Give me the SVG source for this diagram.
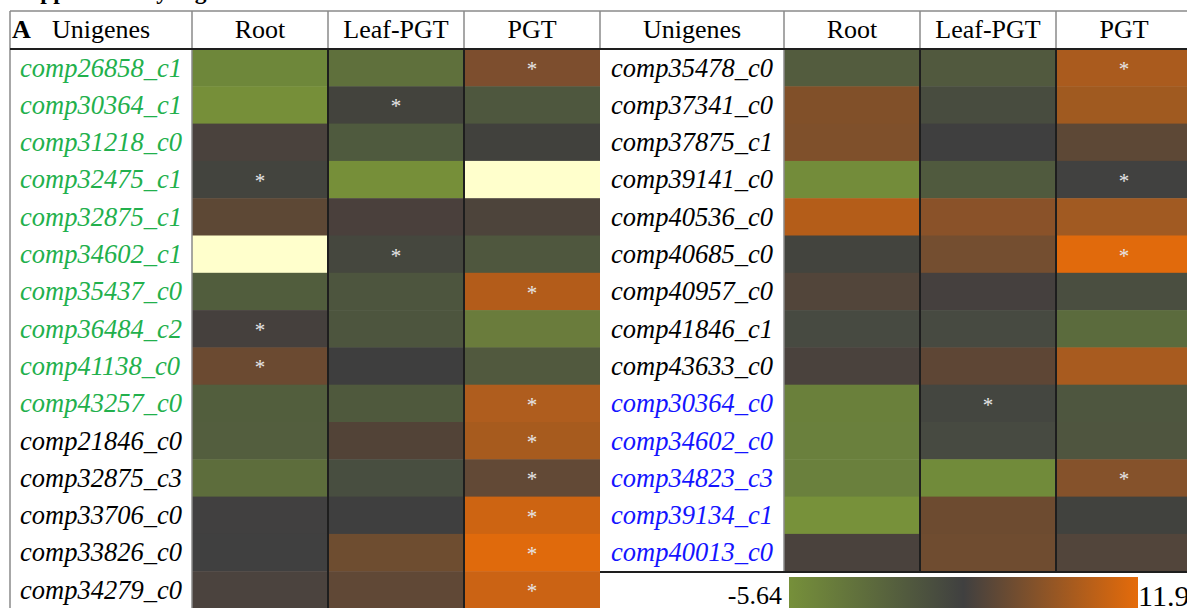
<svg xmlns="http://www.w3.org/2000/svg" width="1187" height="608" viewBox="0 0 1187 608">
<style>
.t{font-family:"Liberation Serif","Times New Roman",serif;font-size:26px;fill:#000}
.h{text-anchor:middle}
.g{font-family:"Liberation Serif","Times New Roman",serif;font-size:26.5px;font-style:italic}
.gr{fill:#22b04c}.bl{fill:#1414ff}.bk{fill:#000}
.s{font-family:"Liberation Serif","Times New Roman",serif;font-size:21px;fill:#e6e6e6;text-anchor:middle}
.lg{stroke:#8a8a8a;stroke-width:1.5}
.ld{stroke:#1e1e1e;stroke-width:2}
</style>
<defs>
<linearGradient id="cb" x1="0" x2="1" y1="0" y2="0">
<stop offset="0" stop-color="#76903a"/>
<stop offset="0.5" stop-color="#404040"/>
<stop offset="1" stop-color="#e56b0a"/>
</linearGradient>
</defs>
<rect width="1187" height="608" fill="#fff"/>
<text x="14" y="-1" style="font-family:'Liberation Serif',serif;font-size:23.5px;font-weight:bold">Supplementary Figure</text>

<g id="header">
<text class="t" x="12" y="38" style="font-weight:bold">A</text>
<text class="t" x="52" y="38">Unigenes</text>
<text class="t h" x="260" y="38">Root</text>
<text class="t h" x="396" y="38">Leaf-PGT</text>
<text class="t h" x="532" y="38">PGT</text>
<text class="t h" x="692" y="38">Unigenes</text>
<text class="t h" x="852" y="38">Root</text>
<text class="t h" x="988" y="38">Leaf-PGT</text>
<text class="t h" x="1124" y="38">PGT</text>
</g>

<g id="left-table">
<g id="L1"><rect x="192" y="49" width="136" height="37.8" fill="#6e873a"/><rect x="328" y="49" width="136" height="37.8" fill="#5f703c"/><rect x="464" y="49" width="136" height="37.8" fill="#7d4e2e"/><text class="s" x="532" y="76">*</text><text class="g gr" x="20" y="76.5">comp26858_c1</text></g>
<g id="L2"><rect x="192" y="86.3" width="136" height="37.8" fill="#768f39"/><rect x="328" y="86.3" width="136" height="37.8" fill="#43433d"/><rect x="464" y="86.3" width="136" height="37.8" fill="#4e573e"/><text class="s" x="396" y="113.3">*</text><text class="g gr" x="20" y="113.8">comp30364_c1</text></g>
<g id="L3"><rect x="192" y="123.6" width="136" height="37.8" fill="#4a423d"/><rect x="328" y="123.6" width="136" height="37.8" fill="#4f5a3e"/><rect x="464" y="123.6" width="136" height="37.8" fill="#41413d"/><text class="g gr" x="20" y="151.1">comp31218_c0</text></g>
<g id="L4"><rect x="192" y="160.9" width="136" height="37.8" fill="#43443e"/><rect x="328" y="160.9" width="136" height="37.8" fill="#768f39"/><rect x="464" y="160.9" width="136" height="37.8" fill="#ffffcc"/><text class="s" x="260" y="187.9">*</text><text class="g gr" x="20" y="188.4">comp32475_c1</text></g>
<g id="L5"><rect x="192" y="198.2" width="136" height="37.8" fill="#5d4835"/><rect x="328" y="198.2" width="136" height="37.8" fill="#4a403c"/><rect x="464" y="198.2" width="136" height="37.8" fill="#4d443b"/><text class="g gr" x="20" y="225.7">comp32875_c1</text></g>
<g id="L6"><rect x="192" y="235.5" width="136" height="37.8" fill="#ffffcc"/><rect x="328" y="235.5" width="136" height="37.8" fill="#45473e"/><rect x="464" y="235.5" width="136" height="37.8" fill="#4f573e"/><text class="s" x="396" y="262.5">*</text><text class="g gr" x="20" y="263">comp34602_c1</text></g>
<g id="L7"><rect x="192" y="272.8" width="136" height="37.8" fill="#515d3d"/><rect x="328" y="272.8" width="136" height="37.8" fill="#4d553e"/><rect x="464" y="272.8" width="136" height="37.8" fill="#b35c1a"/><text class="s" x="532" y="299.8">*</text><text class="g gr" x="20" y="300.3">comp35437_c0</text></g>
<g id="L8"><rect x="192" y="310.1" width="136" height="37.8" fill="#45403d"/><rect x="328" y="310.1" width="136" height="37.8" fill="#4d553e"/><rect x="464" y="310.1" width="136" height="37.8" fill="#6a7c3c"/><text class="s" x="260" y="337.1">*</text><text class="g gr" x="20" y="337.6">comp36484_c2</text></g>
<g id="L9"><rect x="192" y="347.4" width="136" height="37.8" fill="#6b4a31"/><rect x="328" y="347.4" width="136" height="37.8" fill="#3e3e3e"/><rect x="464" y="347.4" width="136" height="37.8" fill="#51593e"/><text class="s" x="260" y="374.4">*</text><text class="g gr" x="20" y="374.9">comp41138_c0</text></g>
<g id="L10"><rect x="192" y="384.7" width="136" height="37.8" fill="#525e3d"/><rect x="328" y="384.7" width="136" height="37.8" fill="#4f593d"/><rect x="464" y="384.7" width="136" height="37.8" fill="#af5d1e"/><text class="s" x="532" y="411.7">*</text><text class="g gr" x="20" y="412.2">comp43257_c0</text></g>
<g id="L11"><rect x="192" y="422" width="136" height="37.8" fill="#535e3e"/><rect x="328" y="422" width="136" height="37.8" fill="#524337"/><rect x="464" y="422" width="136" height="37.8" fill="#a75b1e"/><text class="s" x="532" y="449">*</text><text class="g bk" x="20" y="449.5">comp21846_c0</text></g>
<g id="L12"><rect x="192" y="459.3" width="136" height="37.8" fill="#5d6d3c"/><rect x="328" y="459.3" width="136" height="37.8" fill="#484e40"/><rect x="464" y="459.3" width="136" height="37.8" fill="#624936"/><text class="s" x="532" y="486.3">*</text><text class="g bk" x="20" y="486.8">comp32875_c3</text></g>
<g id="L13"><rect x="192" y="496.6" width="136" height="37.8" fill="#414040"/><rect x="328" y="496.6" width="136" height="37.8" fill="#3f3f3f"/><rect x="464" y="496.6" width="136" height="37.8" fill="#cd6412"/><text class="s" x="532" y="523.6">*</text><text class="g bk" x="20" y="524.1">comp33706_c0</text></g>
<g id="L14"><rect x="192" y="533.9" width="136" height="37.8" fill="#404040"/><rect x="328" y="533.9" width="136" height="37.8" fill="#6e4d30"/><rect x="464" y="533.9" width="136" height="37.8" fill="#e06a0c"/><text class="s" x="532" y="560.9">*</text><text class="g bk" x="20" y="561.4">comp33826_c0</text></g>
<g id="L15"><rect x="192" y="571.2" width="136" height="37.8" fill="#4b433e"/><rect x="328" y="571.2" width="136" height="37.8" fill="#604836"/><rect x="464" y="571.2" width="136" height="37.8" fill="#cb6314"/><text class="s" x="532" y="598.2">*</text><text class="g bk" x="20" y="598.7">comp34279_c0</text></g>
</g>

<g id="right-table">
<g id="R1"><rect x="784" y="49" width="136" height="37.8" fill="#535c3e"/><rect x="920" y="49" width="136" height="37.8" fill="#51593e"/><rect x="1056" y="49" width="136" height="37.8" fill="#aa5b1e"/><text class="s" x="1124" y="76">*</text><text class="g bk" x="611" y="76.5">comp35478_c0</text></g>
<g id="R2"><rect x="784" y="86.3" width="136" height="37.8" fill="#815029"/><rect x="920" y="86.3" width="136" height="37.8" fill="#484c3f"/><rect x="1056" y="86.3" width="136" height="37.8" fill="#a05a20"/><text class="g bk" x="611" y="113.8">comp37341_c0</text></g>
<g id="R3"><rect x="784" y="123.6" width="136" height="37.8" fill="#7f502b"/><rect x="920" y="123.6" width="136" height="37.8" fill="#3f3f3f"/><rect x="1056" y="123.6" width="136" height="37.8" fill="#5d4836"/><text class="g bk" x="611" y="151.1">comp37875_c1</text></g>
<g id="R4"><rect x="784" y="160.9" width="136" height="37.8" fill="#738c3a"/><rect x="920" y="160.9" width="136" height="37.8" fill="#505a3e"/><rect x="1056" y="160.9" width="136" height="37.8" fill="#414140"/><text class="s" x="1124" y="187.9">*</text><text class="g bk" x="611" y="188.4">comp39141_c0</text></g>
<g id="R5"><rect x="784" y="198.2" width="136" height="37.8" fill="#b45d19"/><rect x="920" y="198.2" width="136" height="37.8" fill="#8a5229"/><rect x="1056" y="198.2" width="136" height="37.8" fill="#a15a22"/><text class="g bk" x="611" y="225.7">comp40536_c0</text></g>
<g id="R6"><rect x="784" y="235.5" width="136" height="37.8" fill="#43443e"/><rect x="920" y="235.5" width="136" height="37.8" fill="#744e30"/><rect x="1056" y="235.5" width="136" height="37.8" fill="#e16a0c"/><text class="s" x="1124" y="262.5">*</text><text class="g bk" x="611" y="263">comp40685_c0</text></g>
<g id="R7"><rect x="784" y="272.8" width="136" height="37.8" fill="#52453a"/><rect x="920" y="272.8" width="136" height="37.8" fill="#45403e"/><rect x="1056" y="272.8" width="136" height="37.8" fill="#4a4e40"/><text class="g bk" x="611" y="300.3">comp40957_c0</text></g>
<g id="R8"><rect x="784" y="310.1" width="136" height="37.8" fill="#474a41"/><rect x="920" y="310.1" width="136" height="37.8" fill="#474a41"/><rect x="1056" y="310.1" width="136" height="37.8" fill="#5b6b3d"/><text class="g bk" x="611" y="337.6">comp41846_c1</text></g>
<g id="R9"><rect x="784" y="347.4" width="136" height="37.8" fill="#4a423d"/><rect x="920" y="347.4" width="136" height="37.8" fill="#5e4635"/><rect x="1056" y="347.4" width="136" height="37.8" fill="#a85b1f"/><text class="g bk" x="611" y="374.9">comp43633_c0</text></g>
<g id="R10"><rect x="784" y="384.7" width="136" height="37.8" fill="#6a803b"/><rect x="920" y="384.7" width="136" height="37.8" fill="#444640"/><rect x="1056" y="384.7" width="136" height="37.8" fill="#4e563f"/><text class="s" x="988" y="411.7">*</text><text class="g bl" x="611" y="412.2">comp30364_c0</text></g>
<g id="R11"><rect x="784" y="422" width="136" height="37.8" fill="#6a803d"/><rect x="920" y="422" width="136" height="37.8" fill="#474a41"/><rect x="1056" y="422" width="136" height="37.8" fill="#4f553f"/><text class="g bl" x="611" y="449.5">comp34602_c0</text></g>
<g id="R12"><rect x="784" y="459.3" width="136" height="37.8" fill="#6a803d"/><rect x="920" y="459.3" width="136" height="37.8" fill="#718b3a"/><rect x="1056" y="459.3" width="136" height="37.8" fill="#85522b"/><text class="s" x="1124" y="486.3">*</text><text class="g bl" x="611" y="486.8">comp34823_c3</text></g>
<g id="R13"><rect x="784" y="496.6" width="136" height="37.8" fill="#77913a"/><rect x="920" y="496.6" width="136" height="37.8" fill="#6d4b30"/><rect x="1056" y="496.6" width="136" height="37.8" fill="#41423e"/><text class="g bl" x="611" y="524.1">comp39134_c1</text></g>
<g id="R14"><rect x="784" y="533.9" width="136" height="37.3" fill="#4a423d"/><rect x="920" y="533.9" width="136" height="37.3" fill="#6f4c30"/><rect x="1056" y="533.9" width="136" height="37.3" fill="#52453b"/><text class="g bl" x="611" y="561.4">comp40013_c0</text></g>
</g>

<g id="grid">
<line class="lg" x1="10" y1="11" x2="1187" y2="11"/>
<line class="lg" x1="10" y1="11" x2="10" y2="608"/>
<line class="lg" x1="192" y1="11" x2="192" y2="608"/>
<line class="lg" x1="328" y1="11" x2="328" y2="49"/>
<line class="lg" x1="464" y1="11" x2="464" y2="49"/>
<line class="lg" x1="600" y1="11" x2="600" y2="49"/>
<line class="lg" x1="784" y1="11" x2="784" y2="571.5"/>
<line class="lg" x1="920" y1="11" x2="920" y2="49"/>
<line class="lg" x1="1056" y1="11" x2="1056" y2="49"/>
<line class="ld" x1="328" y1="49" x2="328" y2="608"/>
<line class="ld" x1="464" y1="49" x2="464" y2="608"/>
<line class="ld" x1="920" y1="49" x2="920" y2="571.5"/>
<line class="ld" x1="1056" y1="49" x2="1056" y2="571.5"/>
<line class="ld" x1="10" y1="49" x2="1187" y2="49"/>
<line class="ld" x1="600" y1="572" x2="1187" y2="572"/>
</g>

<g id="colorbar">
<rect x="789" y="577" width="349" height="31" fill="url(#cb)"/>
<text class="t" x="782" y="604" text-anchor="end">-5.64</text>
<text class="t" x="1138" y="606" style="font-size:30px">11.9</text>
</g>
</svg>
